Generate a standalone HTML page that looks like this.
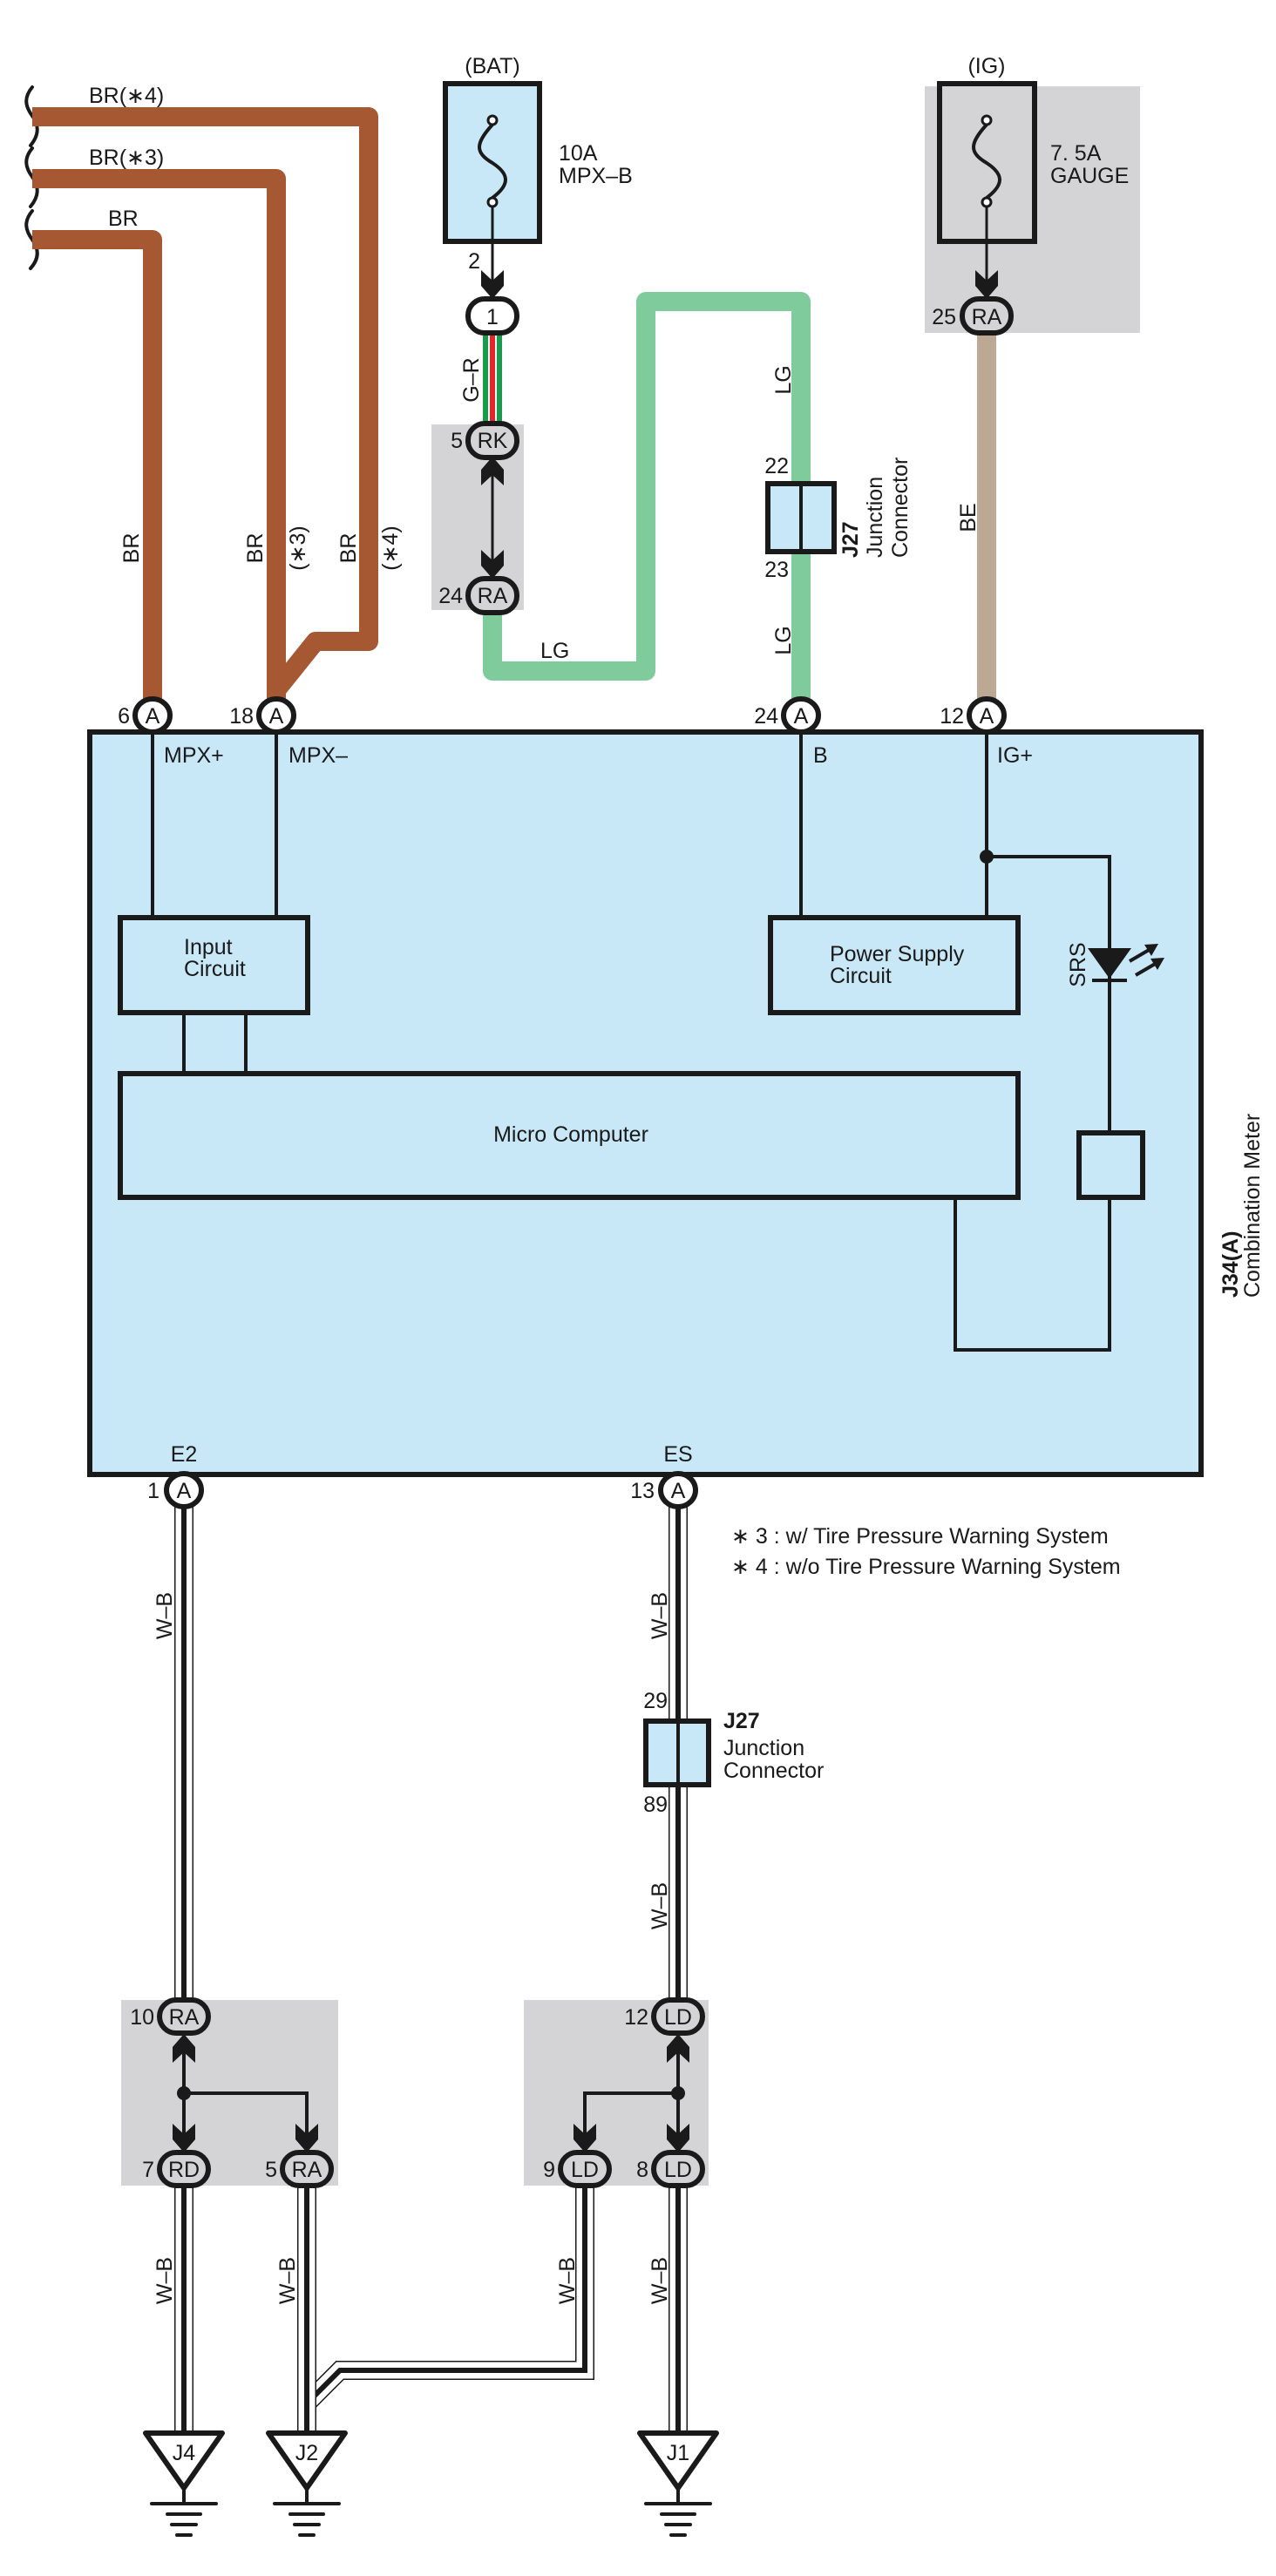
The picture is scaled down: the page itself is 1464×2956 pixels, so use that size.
<!DOCTYPE html>
<html><head><meta charset="utf-8"><style>
html,body{margin:0;padding:0;background:#fff}
svg{display:block}
text{font-family:"Liberation Sans",sans-serif;font-size:25px;fill:#1a1a1a}
.b{font-weight:bold}
</style></head><body>
<svg width="1464" height="2956" viewBox="0 0 1464 2956" xmlns="http://www.w3.org/2000/svg">
<defs>
<polygon id="dn" points="-13,-33 0,-21 13,-33 13,-15 0,0 -13,-15" fill="#1a1a1a"/>
<polygon id="up" points="-13,33 0,21 13,33 13,15 0,0 -13,15" fill="#1a1a1a"/>
</defs>

<rect x="495" y="487" width="106" height="213" fill="#d4d4d6"/>
<rect x="1061" y="99" width="247" height="283" fill="#d4d4d6"/>
<rect x="139" y="2295" width="249" height="213" fill="#d4d4d6"/>
<rect x="601" y="2295" width="212" height="213" fill="#d4d4d6"/>

<g fill="none" stroke="#1a1a1a" stroke-width="4" stroke-linecap="round">
<path d="M37,100 c-10,12 -8,22 0,33 c8,11 8,22 -2,34"/>
<path d="M37,170 c-10,12 -8,22 0,33 c8,11 8,22 -2,34"/>
<path d="M37,242 c-10,12 -8,22 0,33 c8,11 8,22 -2,33"/>
</g>

<g fill="none" stroke="#a65832" stroke-width="22" stroke-linejoin="round">
<path d="M37,134 H423 V736 H362 L317,792 V805"/>
<path d="M37,205 H317 V805"/>
<path d="M37,275 H175 V805"/>
</g>
<text x="102" y="118">BR(∗4)</text>
<text x="102" y="189">BR(∗3)</text>
<text x="124" y="259">BR</text>
<text transform="translate(159,629) rotate(-90)" text-anchor="middle">BR</text>
<text transform="translate(301,629) rotate(-90)" text-anchor="middle">BR</text>
<text transform="translate(350,629) rotate(-90)" text-anchor="middle">(∗3)</text>
<text transform="translate(408,629) rotate(-90)" text-anchor="middle">BR</text>
<text transform="translate(456,629) rotate(-90)" text-anchor="middle">(∗4)</text>

<text x="565" y="84" text-anchor="middle">(BAT)</text>
<rect x="511" y="96" width="108" height="181" fill="#c8e8f8" stroke="#1a1a1a" stroke-width="6"/>
<path d="M565,143 C545,165 545,175 565,187 C585,200 585,212 565,227" fill="none" stroke="#1a1a1a" stroke-width="4"/>
<circle cx="565" cy="138" r="5" fill="#fff" stroke="#1a1a1a" stroke-width="3"/>
<circle cx="565" cy="232" r="5" fill="#fff" stroke="#1a1a1a" stroke-width="3"/>
<line x1="565" y1="237" x2="565" y2="330" stroke="#1a1a1a" stroke-width="3"/>
<use href="#dn" x="565" y="343"/>
<text x="641" y="184">10A</text>
<text x="641" y="210">MPX–B</text>
<text x="551" y="308" text-anchor="end">2</text>

<rect x="554" y="382" width="22" height="106" fill="#1a9a4a"/>
<rect x="560" y="382" width="10" height="106" fill="#fff"/>
<rect x="562" y="382" width="6" height="106" fill="#e02828"/>
<text transform="translate(549,436) rotate(-90)" text-anchor="middle">G–R</text>
<rect x="537" y="343" width="56" height="39" rx="19" fill="#fff" stroke="#1a1a1a" stroke-width="6"/>
<text x="565" y="372" text-anchor="middle">1</text>

<path d="M565,690 V770 H741 V346 H919 V805" fill="none" stroke="#7fcb9c" stroke-width="22" stroke-linejoin="round"/>
<text x="620" y="755">LG</text>
<text transform="translate(907,436) rotate(-90)" text-anchor="middle">LG</text>
<text transform="translate(907,735) rotate(-90)" text-anchor="middle">LG</text>

<line x1="565" y1="530" x2="565" y2="660" stroke="#1a1a1a" stroke-width="3"/>
<use href="#up" x="565" y="524"/>
<use href="#dn" x="565" y="664"/>
<rect x="537" y="486" width="56" height="39" rx="19" fill="#d4d4d6" stroke="#1a1a1a" stroke-width="6"/>
<text x="565" y="514" text-anchor="middle">RK</text>
<text x="531" y="514" text-anchor="end">5</text>
<rect x="537" y="664" width="56" height="39" rx="19" fill="#d4d4d6" stroke="#1a1a1a" stroke-width="6"/>
<text x="565" y="692" text-anchor="middle">RA</text>
<text x="531" y="692" text-anchor="end">24</text>

<rect x="881" y="555" width="76" height="78" fill="#c8e8f8" stroke="#1a1a1a" stroke-width="6"/>
<line x1="919" y1="555" x2="919" y2="633" stroke="#1a1a1a" stroke-width="4"/>
<text x="905" y="543" text-anchor="end">22</text>
<text x="905" y="662" text-anchor="end">23</text>
<text class="b" transform="translate(984,640) rotate(-90)">J27</text>
<text transform="translate(1012,640) rotate(-90)">Junction</text>
<text transform="translate(1041,640) rotate(-90)">Connector</text>

<text x="1132" y="84" text-anchor="middle">(IG)</text>
<rect x="1078" y="96" width="109" height="181" fill="#d4d4d6" stroke="#1a1a1a" stroke-width="6"/>
<path d="M1132,143 C1112,165 1112,175 1132,187 C1152,200 1152,212 1132,227" fill="none" stroke="#1a1a1a" stroke-width="4"/>
<circle cx="1132" cy="138" r="5" fill="#fff" stroke="#1a1a1a" stroke-width="3"/>
<circle cx="1132" cy="232" r="5" fill="#fff" stroke="#1a1a1a" stroke-width="3"/>
<line x1="1132" y1="237" x2="1132" y2="330" stroke="#1a1a1a" stroke-width="3"/>
<use href="#dn" x="1132" y="343"/>
<text x="1205" y="184">7. 5A</text>
<text x="1205" y="210">GAUGE</text>
<line x1="1132" y1="380" x2="1132" y2="805" stroke="#bca994" stroke-width="22"/>
<rect x="1104" y="343" width="56" height="39" rx="19" fill="#d4d4d6" stroke="#1a1a1a" stroke-width="6"/>
<text x="1132" y="372" text-anchor="middle">RA</text>
<text x="1097" y="372" text-anchor="end">25</text>
<text transform="translate(1119,594) rotate(-90)" text-anchor="middle">BE</text>

<rect x="103" y="840" width="1275" height="852" fill="#c8e8f8" stroke="#1a1a1a" stroke-width="6"/>
<g stroke="#1a1a1a" stroke-width="4" fill="none">
<line x1="175" y1="821" x2="175" y2="1053"/>
<line x1="317" y1="821" x2="317" y2="1053"/>
<line x1="919" y1="821" x2="919" y2="1053"/>
<line x1="1132" y1="821" x2="1132" y2="1053"/>
<line x1="211" y1="1162" x2="211" y2="1232"/>
<line x1="282" y1="1162" x2="282" y2="1232"/>
<path d="M1132,983 H1273 V1300"/>
<path d="M1273,1374 V1549 H1096 V1374"/>
</g>
<g stroke="#1a1a1a" stroke-width="6" fill="none">
<rect x="138" y="1053" width="215" height="109"/>
<rect x="884" y="1053" width="284" height="109"/>
<rect x="138" y="1232" width="1030" height="142"/>
<rect x="1238" y="1300" width="73" height="74"/>
</g>
<circle cx="1132" cy="983" r="8" fill="#1a1a1a"/>
<polygon points="1248,1088 1298,1088 1273,1123" fill="#1a1a1a"/>
<line x1="1253" y1="1125" x2="1293" y2="1125" stroke="#1a1a1a" stroke-width="4"/>
<g stroke="#1a1a1a" stroke-width="4">
<line x1="1296" y1="1103" x2="1320" y2="1089"/>
<line x1="1303" y1="1119" x2="1327" y2="1105"/>
</g>
<polygon points="1329,1083 1313,1084 1321,1097" fill="#1a1a1a"/>
<polygon points="1336,1099 1320,1100 1328,1113" fill="#1a1a1a"/>
<text transform="translate(1245,1107) rotate(-90)" text-anchor="middle">SRS</text>

<text x="188" y="875">MPX+</text>
<text x="331" y="875">MPX–</text>
<text x="933" y="875">B</text>
<text x="1144" y="875">IG+</text>
<text x="211" y="1095">Input</text>
<text x="211" y="1120">Circuit</text>
<text x="952" y="1103">Power Supply</text>
<text x="952" y="1128">Circuit</text>
<text x="655" y="1310" text-anchor="middle">Micro Computer</text>
<text x="211" y="1677" text-anchor="middle">E2</text>
<text x="778" y="1677" text-anchor="middle">ES</text>
<text class="b" transform="translate(1420,1489) rotate(-90)">J34(A)</text>
<text transform="translate(1445,1489) rotate(-90)">Combination Meter</text>

<g fill="#fff" stroke="#1a1a1a" stroke-width="6">
<ellipse cx="175" cy="821" rx="20" ry="19"/>
<ellipse cx="317" cy="821" rx="20" ry="19"/>
<ellipse cx="919" cy="821" rx="20" ry="19"/>
<ellipse cx="1132" cy="821" rx="20" ry="19"/>
</g>
<g text-anchor="middle">
<text x="175" y="830">A</text><text x="317" y="830">A</text><text x="919" y="830">A</text><text x="1132" y="830">A</text>
</g>
<text x="149" y="830" text-anchor="end">6</text>
<text x="291" y="830" text-anchor="end">18</text>
<text x="893" y="830" text-anchor="end">24</text>
<text x="1106" y="830" text-anchor="end">12</text>

<g fill="none" stroke-linejoin="miter">
<g stroke="#1a1a1a" stroke-width="22">
<path d="M211,1710 V2295"/><path d="M778,1710 V2295"/>
<path d="M671,2508 V2720 H390 L350,2760"/>
</g>
<g stroke="#fff" stroke-width="19">
<path d="M211,1710 V2295"/><path d="M778,1710 V2295"/>
<path d="M671,2508 V2720 H390 L350,2760"/>
</g>
<g stroke="#1a1a1a" stroke-width="6">
<path d="M211,1710 V2295"/><path d="M778,1710 V2295"/>
<path d="M671,2508 V2720 H390 L350,2760"/>
</g>
<g stroke="#1a1a1a" stroke-width="22">
<path d="M211,2508 V2792"/><path d="M352,2508 V2792"/><path d="M778,2508 V2792"/>
</g>
<g stroke="#fff" stroke-width="19">
<path d="M211,2508 V2792"/><path d="M352,2508 V2792"/><path d="M778,2508 V2792"/>
</g>
<g stroke="#1a1a1a" stroke-width="6">
<path d="M211,2508 V2792"/><path d="M352,2508 V2792"/><path d="M778,2508 V2792"/>
</g>
</g>
<text transform="translate(197,1854) rotate(-90)" text-anchor="middle">W–B</text>
<text transform="translate(765,1854) rotate(-90)" text-anchor="middle">W–B</text>
<text transform="translate(765,2187) rotate(-90)" text-anchor="middle">W–B</text>
<text transform="translate(197,2617) rotate(-90)" text-anchor="middle">W–B</text>
<text transform="translate(338,2617) rotate(-90)" text-anchor="middle">W–B</text>
<text transform="translate(659,2617) rotate(-90)" text-anchor="middle">W–B</text>
<text transform="translate(765,2617) rotate(-90)" text-anchor="middle">W–B</text>

<ellipse cx="211" cy="1710" rx="20" ry="19" fill="#fff" stroke="#1a1a1a" stroke-width="6"/>
<ellipse cx="778" cy="1710" rx="20" ry="19" fill="#fff" stroke="#1a1a1a" stroke-width="6"/>
<text x="211" y="1719" text-anchor="middle">A</text>
<text x="778" y="1719" text-anchor="middle">A</text>
<text x="183" y="1719" text-anchor="end">1</text>
<text x="751" y="1719" text-anchor="end">13</text>

<text x="839" y="1771">∗ 3 : w/ Tire Pressure Warning System</text>
<text x="839" y="1806">∗ 4 : w/o Tire Pressure Warning System</text>

<rect x="741" y="1975" width="72" height="73" fill="#c8e8f8" stroke="#1a1a1a" stroke-width="6"/>
<line x1="778" y1="1975" x2="778" y2="2048" stroke="#1a1a1a" stroke-width="4"/>
<text x="766" y="1960" text-anchor="end">29</text>
<text x="766" y="2079" text-anchor="end">89</text>
<text class="b" x="830" y="1983">J27</text>
<text x="830" y="2014">Junction</text>
<text x="830" y="2040">Connector</text>

<g stroke="#1a1a1a" stroke-width="4" fill="none">
<path d="M211,2340 V2460"/><path d="M211,2402 H352 V2460"/>
<path d="M778,2340 V2460"/><path d="M778,2402 H671 V2460"/>
</g>
<circle cx="211" cy="2402" r="8" fill="#1a1a1a"/>
<circle cx="778" cy="2402" r="8" fill="#1a1a1a"/>
<use href="#up" x="211" y="2334"/>
<use href="#up" x="778" y="2334"/>
<use href="#dn" x="211" y="2470"/>
<use href="#dn" x="352" y="2470"/>
<use href="#dn" x="671" y="2470"/>
<use href="#dn" x="778" y="2470"/>
<g fill="#d4d4d6" stroke="#1a1a1a" stroke-width="6">
<rect x="183" y="2295" width="56" height="38" rx="19"/>
<rect x="183" y="2470" width="56" height="38" rx="19"/>
<rect x="324" y="2470" width="56" height="38" rx="19"/>
<rect x="750" y="2295" width="56" height="38" rx="19"/>
<rect x="643" y="2470" width="56" height="38" rx="19"/>
<rect x="750" y="2470" width="56" height="38" rx="19"/>
</g>
<g text-anchor="middle">
<text x="211" y="2323">RA</text><text x="211" y="2498">RD</text><text x="352" y="2498">RA</text>
<text x="778" y="2323">LD</text><text x="671" y="2498">LD</text><text x="778" y="2498">LD</text>
</g>
<g text-anchor="end">
<text x="177" y="2323">10</text><text x="177" y="2498">7</text><text x="318" y="2498">5</text>
<text x="744" y="2323">12</text><text x="637" y="2498">9</text><text x="744" y="2498">8</text>
</g>

<g id="g1">
<polygon points="167,2792 255,2792 211,2855" fill="#fff" stroke="#1a1a1a" stroke-width="6" stroke-linejoin="round"/>
<g stroke="#1a1a1a" stroke-width="4" stroke-linecap="round">
<line x1="211" y1="2855" x2="211" y2="2873"/>
<line x1="174" y1="2873" x2="248" y2="2873"/>
<line x1="192" y1="2885" x2="230" y2="2885"/>
<line x1="197" y1="2897" x2="225" y2="2897"/>
<line x1="203" y1="2909" x2="219" y2="2909"/>
</g>
</g>
<use href="#g1" x="141"/>
<use href="#g1" x="567"/>
<text x="211" y="2823" text-anchor="middle">J4</text>
<text x="352" y="2823" text-anchor="middle">J2</text>
<text x="778" y="2823" text-anchor="middle">J1</text>
</svg>
</body></html>
